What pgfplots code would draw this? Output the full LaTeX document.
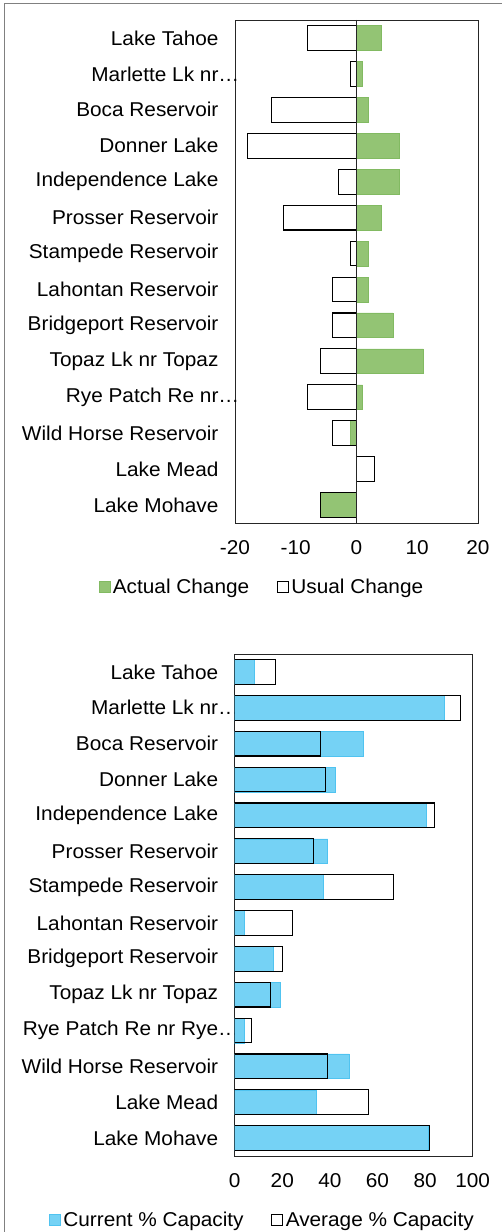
\documentclass[border=0pt]{standalone}
\usepackage{fontspec}
\setmainfont{Liberation Sans}[FakeStretch=1.04]
\usepackage{pgfplots}
\pgfplotsset{compat=1.18}
\definecolor{actgreen}{RGB}{147,196,116}
\definecolor{actgreenE}{RGB}{130,186,98}
\definecolor{curblue}{RGB}{117,210,245}
\definecolor{curblueE}{RGB}{80,195,240}
\newcommand{\fs}{\fontsize{20}{24}\selectfont}
\pgfplotsset{
  mybar/.style={
    scale only axis,
    xbar, bar shift=0pt, bar width=0.69,
    y dir=reverse, ymin=0.5, ymax=14.5,
    ytick={1,...,14},
    major tick length=0pt,
    axis line style={draw=black!85, line width=0.9pt},
    tick label style={font=\fs},
    yticklabel style={xshift=-13pt},
    xticklabel style={yshift=-14pt},
    legend columns=2,
    legend style={draw=none, fill=none, font=\fs,
      /tikz/every even column/.append style={column sep=25pt},
      nodes={inner sep=2.5pt}},
    legend image code/.code={\draw[#1] (-2.5pt,-5.5pt) rectangle (8.5pt,5.5pt);},
  }
}
\begin{document}
\begin{tikzpicture}
\path[use as bounding box] (0,0) rectangle (502pt,1232pt);
\draw[black!50, line width=1pt] (4.5pt,-2pt) -- (4.5pt,1228pt) -- (504pt,1228pt);

\begin{axis}[mybar,
  at={(235pt,709pt)}, anchor=south west,
  width=243pt, height=503pt,
  xmin=-20, xmax=20,
  xtick={-20,-10,0,10,20},
  xticklabels={-20,-10,0,10,20},
  yticklabels={Lake Tahoe, Marlette Lk nr\rlap{…}, Boca Reservoir, Donner Lake, Independence Lake, Prosser Reservoir, Stampede Reservoir, Lahontan Reservoir, Bridgeport Reservoir, Topaz Lk nr Topaz, Rye Patch Re nr\rlap{…}, Wild Horse Reservoir, Lake Mead, Lake Mohave},
  legend style={at={(axis description cs:0.112,-0.127)}, anchor=center},
]
\addplot[fill=actgreen, draw=actgreenE, line width=0.6pt] coordinates {
(4,1) (1,2) (2,3) (7,4) (7,5) (4,6) (2,7) (2,8) (6,9) (11,10) (1,11) (-1,12) (0,13) (-6,14)};
\addlegendentry{Actual Change}
\addplot[fill=none, draw=black, line width=1.1pt] coordinates {
(-8,1) (-1,2) (-14,3) (-18,4) (-3,5) (-12,6) (-1,7) (-4,8) (-4,9) (-6,10) (-8,11) (-4,12) (3,13) (-6,14)};
\addlegendentry{Usual Change}
\addplot[forget plot, draw=black!85, line width=1pt, sharp plot, mark=none] coordinates {(0,0.5) (0,14.5)};
\end{axis}

\begin{axis}[mybar,
  at={(234.7pt,76pt)}, anchor=south west,
  width=238pt, height=502pt,
  xmin=0, xmax=100,
  xtick={0,20,40,60,80,100},
  xticklabels={0,20,40,60,80,100},
  yticklabels={Lake Tahoe, Marlette Lk nr\rlap{…}, Boca Reservoir, Donner Lake, Independence Lake, Prosser Reservoir, Stampede Reservoir, Lahontan Reservoir, Bridgeport Reservoir, Topaz Lk nr Topaz, Rye Patch Re nr Rye\rlap{…}, Wild Horse Reservoir, Lake Mead, Lake Mohave},
  legend style={at={(axis description cs:0.118,-0.1275)}, anchor=center},
]
\addplot[fill=curblue, draw=curblueE, line width=0.6pt] coordinates {
(8.2,1) (87.9,2) (54,3) (42.1,4) (80.3,5) (39.1,6) (37.2,7) (4.2,8) (16.4,9) (19.2,10) (4.2,11) (48.2,12) (34.2,13) (81.5,14)};
\addlegendentry{Current \% Capacity}
\addplot[fill=none, draw=black, line width=1.1pt] coordinates {
(17,1) (95,2) (36.1,3) (38.1,4) (84,5) (33,6) (66.9,7) (24.1,8) (20,9) (15.1,10) (7.1,11) (39.1,12) (56.1,13) (81.9,14)};
\addlegendentry{Average \% Capacity}
\end{axis}
\end{tikzpicture}
\end{document}
